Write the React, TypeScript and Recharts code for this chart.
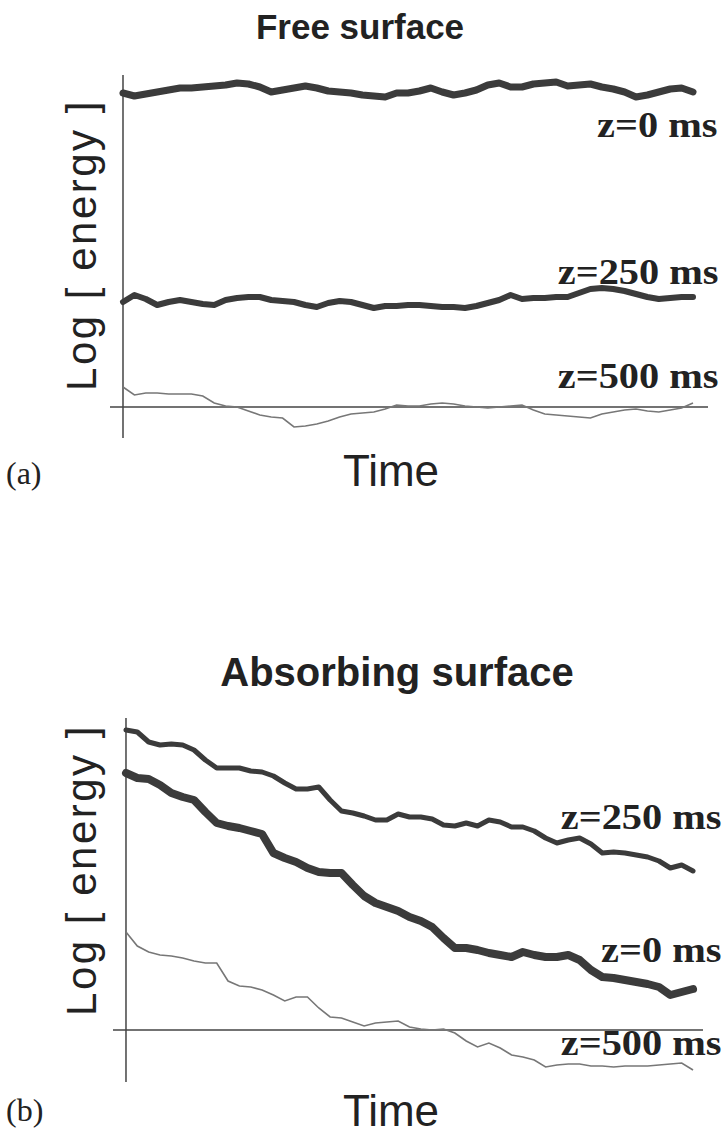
import { LineChart, Line, XAxis, YAxis, ReferenceLine } from 'recharts';
import type { CSSProperties } from 'react';

// time axis (arbitrary units, 0..100)
const time = [
  0, 2, 4, 6, 8, 10, 12, 14, 16, 18, 20, 22, 24, 26, 28, 30, 32, 34, 36, 38, 40, 42, 44, 46, 48, 50,
  52, 54, 56, 58, 60, 62, 64, 66, 68, 70, 72, 74, 76, 78, 80, 82, 84, 86, 88, 90, 92, 94, 96, 98, 100,
];

// (a) free surface, log energy
const free0 = [
  31.4, 31.1, 31.3, 31.5, 31.7, 31.9, 31.9, 32.0, 32.1, 32.2, 32.4, 32.3, 32.0, 31.5, 31.7, 31.9, 32.1,
  31.9, 31.6, 31.5, 31.4, 31.2, 31.1, 31.0, 31.4, 31.4, 31.6, 31.9, 31.5, 31.2, 31.4, 31.7, 32.2, 32.4,
  32.0, 32.0, 32.3, 32.4, 32.5, 32.1, 32.2, 32.3, 32.0, 31.8, 31.5, 31.0, 31.2, 31.5, 31.8, 31.9, 31.5,
];
const free250 = [
  10.5, 11.2, 10.8, 10.2, 10.5, 10.7, 10.5, 10.3, 10.2, 10.7, 10.9, 11.0, 11.0, 10.7, 10.6, 10.5, 10.2,
  10.0, 10.4, 10.6, 10.5, 10.2, 9.9, 10.1, 10.1, 10.2, 10.2, 10.1, 10.0, 10.0, 9.9, 10.1, 10.4, 10.7,
  11.2, 10.8, 10.9, 10.9, 11.0, 11.0, 11.4, 11.8, 11.9, 11.8, 11.6, 11.3, 11.0, 10.8, 10.9, 11.0, 11.0,
];
const free500 = [
  2.0, 1.2, 1.4, 1.4, 1.3, 1.3, 1.3, 1.1, 0.4, 0.1, 0.0, -0.4, -0.8, -1.0, -1.1, -2.0, -1.9, -1.7,
  -1.4, -1.0, -0.7, -0.6, -0.5, -0.2, 0.2, 0.1, 0.1, 0.3, 0.4, 0.3, 0.1, 0.0, -0.1, 0.0, 0.1, 0.2,
  -0.3, -0.7, -0.8, -0.9, -1.0, -1.1, -0.7, -0.5, -0.3, -0.2, -0.4, -0.5, -0.3, -0.1, 0.4,
];

// (b) absorbing surface, log energy
const abs0 = [
  25.7, 25.2, 25.1, 24.5, 23.7, 23.3, 23.0, 21.8, 20.7, 20.4, 20.2, 19.9, 19.6, 17.7, 17.2, 16.8, 16.2,
  15.8, 15.7, 15.7, 14.5, 13.4, 12.7, 12.3, 11.9, 11.3, 10.9, 10.3, 9.2, 8.2, 8.2, 8.0, 7.7, 7.5, 7.3,
  7.8, 7.5, 7.3, 7.3, 7.5, 7.0, 6.0, 5.3, 5.2, 5.0, 4.8, 4.6, 4.3, 3.5, 3.8, 4.1,
];
const abs250 = [
  30.0, 29.8, 28.8, 28.5, 28.6, 28.5, 28.0, 27.0, 26.2, 26.2, 26.2, 25.9, 25.8, 25.4, 24.7, 24.1, 24.1,
  24.3, 23.0, 21.9, 21.7, 21.4, 21.0, 21.0, 21.6, 21.3, 21.3, 21.1, 20.5, 20.4, 20.7, 20.4, 21.0, 20.8,
  20.3, 20.3, 19.9, 19.2, 18.7, 19.0, 19.2, 18.6, 17.7, 17.8, 17.7, 17.5, 17.3, 16.9, 16.2, 16.5, 15.9,
];
const abs500 = [
  9.8, 8.4, 7.8, 7.5, 7.4, 7.2, 6.9, 6.7, 6.7, 4.9, 4.4, 4.3, 4.0, 3.5, 2.9, 3.3, 3.3, 2.2, 1.3, 1.2,
  0.8, 0.4, 0.7, 0.8, 0.9, 0.3, 0.1, 0.0, 0.1, -0.3, -1.1, -1.7, -1.3, -1.8, -2.5, -2.7, -3.0, -3.7,
  -3.5, -3.4, -3.4, -3.6, -3.6, -3.7, -3.6, -3.6, -3.6, -3.5, -3.4, -3.3, -4.0,
];

const freeData = time.map((t, i) => ({ t, z0: free0[i], z250: free250[i], z500: free500[i] }));
const absData = time.map((t, i) => ({ t, z0: abs0[i], z250: abs250[i], z500: abs500[i] }));

const THICK = '#3b3b3b';
const THIN = '#777777';
const AXIS = '#444444';

const sans = '"Liberation Sans", Arial, sans-serif';
const serif = '"Liberation Serif", "Times New Roman", serif';

const abs = (s: CSSProperties): CSSProperties => ({ position: 'absolute', whiteSpace: 'nowrap', lineHeight: 1, ...s });

function Title({ text, cx, cy, size }: { text: string; cx: number; cy: number; size: number }) {
  return (
    <div style={abs({ left: cx, top: cy, transform: 'translate(-50%,-50%)', fontFamily: sans, fontWeight: 700, fontSize: size, color: '#222' })}>
      {text}
    </div>
  );
}

function CurveLabel({ text, right, cy }: { text: string; right: number; cy: number }) {
  return (
    <div
      style={abs({
        right: 728 - right,
        top: cy - 18,
        fontFamily: serif,
        fontWeight: 700,
        fontSize: 36,
        color: '#222',
        transform: 'scaleX(1.12)',
        transformOrigin: 'right center',
      })}
    >
      {text}
    </div>
  );
}

function Panel({
  data,
  top,
  height,
  margin,
  xDomain,
  yDomain,
  w0,
  w250,
}: {
  data: typeof freeData;
  top: number;
  height: number;
  margin: { top: number; right: number; bottom: number; left: number };
  xDomain: [number, number];
  yDomain: [number, number];
  w0: number;
  w250: number;
}) {
  return (
    <div style={{ position: 'absolute', left: 0, top }}>
      <LineChart width={728} height={height} data={data} margin={margin}>
        <XAxis type="number" dataKey="t" domain={xDomain} allowDataOverflow hide />
        <YAxis type="number" domain={yDomain} allowDataOverflow hide />
        <ReferenceLine x={0} stroke={AXIS} strokeWidth={1.5} />
        <ReferenceLine y={0} stroke={AXIS} strokeWidth={1.3} />
        <Line dataKey="z500" stroke={THIN} strokeWidth={1.6} dot={false} isAnimationActive={false} />
        <Line dataKey="z250" stroke={THICK} strokeWidth={w250} dot={false} strokeLinejoin="round" strokeLinecap="round" isAnimationActive={false} />
        <Line dataKey="z0" stroke={THICK} strokeWidth={w0} dot={false} strokeLinejoin="round" strokeLinecap="round" isAnimationActive={false} />
      </LineChart>
    </div>
  );
}

export default function App() {
  return (
    <div style={{ position: 'absolute', left: 0, top: 0, width: 728, height: 1139, background: '#fff', overflow: 'hidden' }}>
      <Panel
        data={freeData}
        top={0}
        height={500}
        margin={{ top: 75, right: 20, bottom: 62, left: 110 }}
        xDomain={[-2.28, 102.63]}
        yDomain={[-3.1, 33.2]}
        w0={7}
        w250={6}
      />
      <Panel
        data={absData}
        top={640}
        height={499}
        margin={{ top: 78, right: 25, bottom: 57, left: 113 }}
        xDomain={[-2.29, 101.76]}
        yDomain={[-5.2, 31.2]}
        w0={8}
        w250={5}
      />

      <Title text="Free surface" cx={360} cy={26} size={35} />
      <Title text="Absorbing surface" cx={397} cy={672} size={40} />

      <CurveLabel text="z=0 ms" right={717} cy={125} />
      <CurveLabel text="z=250 ms" right={718} cy={272} />
      <CurveLabel text="z=500 ms" right={718} cy={376} />

      <CurveLabel text="z=250 ms" right={721} cy={817} />
      <CurveLabel text="z=0 ms" right={721} cy={950} />
      <CurveLabel text="z=500 ms" right={721} cy={1043} />

      {[245, 870].map((cy) => (
        <div
          key={cy}
          style={abs({ left: 82, top: cy, transform: 'translate(-50%,-50%) rotate(-90deg)', fontFamily: sans, fontSize: 42, letterSpacing: 2.5, color: '#222' })}
        >
          Log [ energy ]
        </div>
      ))}

      {[471, 1111].map((cy) => (
        <div key={cy} style={abs({ left: 391, top: cy, transform: 'translate(-50%,-50%)', fontFamily: sans, fontSize: 44, color: '#222' })}>
          Time
        </div>
      ))}

      <div style={abs({ left: 6, top: 473 - 16, fontFamily: serif, fontSize: 32, color: '#222' })}>(a)</div>
      <div style={abs({ left: 6, top: 1110 - 16, fontFamily: serif, fontSize: 32, color: '#222' })}>(b)</div>
    </div>
  );
}
